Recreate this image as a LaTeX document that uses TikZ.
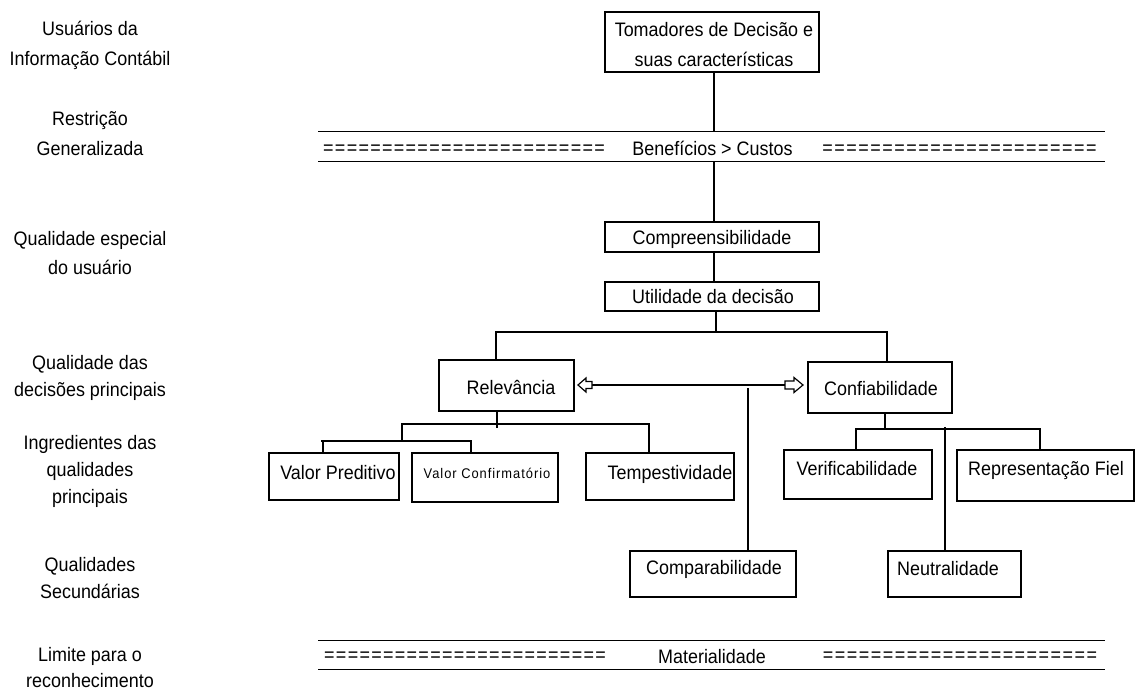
\documentclass[tikz,border=0pt]{standalone}
\usepackage{fontspec}
\newfontfamily\lblfont{Liberation Sans}[FakeStretch=0.92]
\newfontfamily\smallfont{Liberation Sans}[FakeStretch=0.92,LetterSpace=7]
\newcommand{\eqrun}[2]{\hbox to #1{\xleaders\hbox to #2{\hss=\hss}\hfill}}
\tikzset{
  box/.style={draw, line width=1.2pt, anchor=north west, inner sep=0pt, outer sep=0pt},
  txt/.style={font=\lblfont\fontsize{19.5}{24}\selectfont, inner sep=0pt, text height=14pt, text depth=0pt},
  lbl/.style={font=\lblfont\fontsize{19.5}{#1}\selectfont, align=center, inner sep=0pt},
  eqs/.style={font=\lblfont\fontsize{19.5}{22}\selectfont, inner sep=0pt, text height=11pt, text depth=0pt},
  ln/.style={line width=1.2pt},
  headshape/.style={line width=1.2pt, fill=white, line join=miter},
  band/.style={minimum width=787pt, inner sep=0pt, outer sep=0pt},
}
\begin{document}
\begin{tikzpicture}[x=1pt,y=-1pt]
\fill[white] (0,0) rectangle (1135,695);
\useasboundingbox (0,0) rectangle (1135,695);

% left labels
\node[lbl=30] (L1) at (90,45) {Usuários da\\Informação Contábil};
\node[lbl=30] (L2) at (90,134) {Restrição\\Generalizada};
\node[lbl=29] (L3) at (90,253) {Qualidade especial\\do usuário};
\node[lbl=27] (L4) at (90,378) {Qualidade das\\decisões principais};
\node[lbl=27] (L5) at (90,471) {Ingredientes das\\qualidades\\principais};
\node[lbl=27] (L6) at (90,578) {Qualidades\\Secundárias};
\node[lbl=26] (L7) at (90,668) {Limite para o\\reconhecimento};

% boxes
\node[box, minimum width=214pt, minimum height=60pt] (tom) at (605,12) {};
\node[box, minimum width=214pt, minimum height=30pt] (comp) at (605,222) {};
\node[box, minimum width=214pt, minimum height=29pt] (util) at (605,282) {};
\node[box, minimum width=135pt, minimum height=51pt] (rel) at (439,360) {};
\node[box, minimum width=144pt, minimum height=51pt] (conf) at (808,362) {};
\node[box, minimum width=130pt, minimum height=47pt] (vp) at (269,453) {};
\node[box, minimum width=146pt, minimum height=49pt] (vc) at (412,453) {};
\node[box, minimum width=148pt, minimum height=47pt] (tem) at (586,453) {};
\node[box, minimum width=166pt, minimum height=46pt] (cmp) at (630,551) {};
\node[box, minimum width=148pt, minimum height=49pt] (ver) at (784,450) {};
\node[box, minimum width=177pt, minimum height=51pt] (rep) at (957,450) {};
\node[box, minimum width=133pt, minimum height=46pt] (neu) at (888,551) {};

% box texts
\node[lbl=30] (tomT) at (714,45) {Tomadores de Decisão e\\suas características};
\node[txt] (compT) at (712,237) {Compreensibilidade};
\node[txt] (utilT) at (713,296.5) {Utilidade da decisão};
\node[txt] (relT) at (511,387) {Relevância};
\node[txt] (confT) at (881,388) {Confiabilidade};
\node[txt] (vpT) at (338,472) {Valor Preditivo};
\node[txt, font=\smallfont\fontsize{14}{17}\selectfont, text height=10pt] (vcT) at (487,473) {Valor Confirmatório};
\node[txt] (temT) at (670,472) {Tempestividade};
\node[txt] (cmpT) at (714,567) {Comparabilidade};
\node[txt] (verT) at (857,468) {Verificabilidade};
\node[txt] (repT) at (1046,468) {Representação Fiel};
\node[txt] (neuT) at (948,568) {Neutralidade};

% bands
\node[band, minimum height=30pt] (band1) at (711.5,146.7) {};
\draw[ln] (band1.north west) -- (band1.north east);
\draw[ln] (band1.south west) -- (band1.south east);
\node[eqs] (eq1L) at (464,149) {\eqrun{283pt}{11.75pt}};
\node[txt] (benT) at (712.5,149) {Benefícios > Custos};
\node[eqs] (eq1R) at (959.5,149) {\eqrun{276pt}{11.9pt}};

\node[band, minimum height=29pt] (band2) at (711.5,655) {};
\draw[ln] (band2.north west) -- (band2.north east);
\draw[ln] (band2.south west) -- (band2.south east);
\node[eqs] (eq2L) at (465,656) {\eqrun{283pt}{11.75pt}};
\node[txt] (matT) at (712,656) {Materialidade};
\node[eqs] (eq2R) at (960,656) {\eqrun{276pt}{11.9pt}};

% connectors
\coordinate (cx) at (714,0);
\draw[ln] (tom.south -| cx) -- (band1.north -| cx);
\draw[ln] (band1.south -| cx) -- (comp.north -| cx);
\draw[ln] (comp.south -| cx) -- (util.north -| cx);

\coordinate (jU) at (716,332);
\coordinate (jUL) at (496,332);
\coordinate (jUR) at (887,332);
\draw[ln] (util.south -| jU) -- (jU);
\draw[ln] (rel.north -| jUL) -- (jUL) -- (jUR) -- (conf.north -| jUR);

\coordinate (jR) at (497,428);
\coordinate (jRL) at (402,424);
\coordinate (jRR) at (649,424);
\coordinate (jV) at (402,441);
\draw[ln] (rel.south -| jR) -- (jR);
\draw[ln] (jV) -- (jRL) -- (jRR) -- (tem.north -| jRR);
\coordinate (jVL) at (321,441);
\coordinate (jVa) at (323,441);
\coordinate (jVR) at (472,441);
\coordinate (jVb) at (471,441);
\draw[ln] (jVL) -- (jVR);
\draw[ln] (vp.north -| jVa) -- (jVa);
\draw[ln] (vc.north -| jVb) -- (jVb);

\coordinate (jC) at (885,429);
\coordinate (jCL) at (856,429);
\coordinate (jCR) at (1040,429);
\draw[ln] (conf.south -| jC) -- (jC);
\draw[ln] (ver.north -| jCL) -- (jCL) -- (jCR) -- (rep.north -| jCR);
\coordinate (jN) at (945,427);
\draw[ln] (jN) -- (neu.north -| jN);

% double block arrow between Relevancia and Confiabilidade
\coordinate (arL) at (578,385);
\coordinate (arR) at (803,385);
\draw[ln] ([xshift=14pt]arL) -- ([xshift=-18pt]arR);
\draw[headshape] (arL) -- ++(8,-7) -- ++(0,3.5) -- ++(6,0) -- ++(0,7) -- ++(-6,0) -- ++(0,3.5) -- cycle;
\draw[headshape] (arR) -- ++(-9,-7.5) -- ++(0,3.5) -- ++(-9,0) -- ++(0,8) -- ++(9,0) -- ++(0,3.5) -- cycle;
\coordinate (jK) at (748,388);
\draw[ln] (jK) -- (cmp.north -| jK);
\end{tikzpicture}
\end{document}
